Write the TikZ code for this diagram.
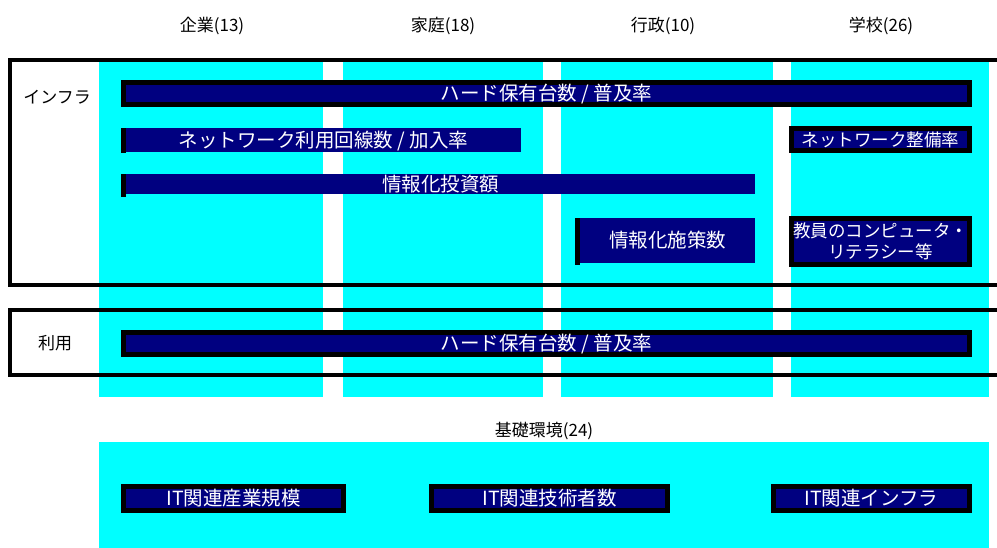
\documentclass[tikz,border=0pt]{standalone}
\usepackage{fontspec}
\setmainfont{Noto Sans CJK JP}
\definecolor{cyanbg}{HTML}{00FFFF}
\definecolor{navybox}{HTML}{000080}
\tikzset{
  colbg/.style={fill=cyanbg, draw=none, inner sep=0pt, anchor=north west},
  framebox/.style={line width=4pt, draw=black},
  fullbox/.style={fill=navybox, draw=black, line width=5pt, text=white, inner sep=0pt, font=\fontsize{19.5}{22}\selectfont, align=center, text height=16pt, text depth=2pt},
  stripbox/.style={fill=navybox, draw=none, text=white, inner sep=0pt, font=\fontsize{19.5}{22}\selectfont, align=center, text height=16pt, text depth=2pt},
  strip/.style={fill=black, draw=none, inner sep=0pt, anchor=north west},
  head/.style={font=\fontsize{17}{20}\selectfont, text=black, inner sep=0pt},
}
\begin{document}
\begin{tikzpicture}[x=1pt,y=-1pt]
\useasboundingbox (0,0) rectangle (997,547);
\fill[white] (0,0) rectangle (997,547);
% cyan columns
\node[colbg, minimum width=224pt, minimum height=338pt] (c1) at (99,59) {};
\node[colbg, minimum width=200pt, minimum height=338pt] (c2) at (343,59) {};
\node[colbg, minimum width=212pt, minimum height=338pt] (c3) at (561,59) {};
\node[colbg, minimum width=198pt, minimum height=338pt] (c4) at (791,59) {};
\node[colbg, minimum width=890pt, minimum height=106pt] (cb) at (99,442) {};
% headers
\node[head] (h1) at (212,26) {企業(13)};
\node[head] (h2) at (443,26) {家庭(18)};
\node[head] (h3) at (663,26) {行政(10)};
\node[head] (h4) at (881,26) {学校(26)};
\node[head] (hb) at (544,431) {基礎環境(24)};
\node[head] (linfra) at (57,97) {インフラ};
\node[head] (luse) at (55,343) {利用};
% frames
\draw[framebox] (1002,60) -- (10,60) -- (10,285) -- (1002,285);
\draw[framebox] (1002,310) -- (10,310) -- (10,375) -- (1002,375);
% infra boxes
\node[fullbox, minimum width=846pt, minimum height=22pt] (b1) at (546.5,93.5) {ハード保有台数 / 普及率};
\node[strip, minimum width=5pt, minimum height=25pt] (s2) at (121,128) {};
\node[stripbox, minimum width=395pt, minimum height=24pt] (b2) at (323.5,140) {ネットワーク利用回線数 / 加入率};
\node[strip, minimum width=5pt, minimum height=23pt] (s3) at (121,174) {};
\node[stripbox, minimum width=629pt, minimum height=20pt] (b3) at (440.5,184) {情報化投資額};
\node[strip, minimum width=5pt, minimum height=47pt] (s4) at (575,218) {};
\node[stripbox, minimum width=175pt, minimum height=45pt] (b4) at (667.5,240.5) {情報化施策数};
\node[fullbox, minimum width=178pt, minimum height=22pt, font=\fontsize{17.5}{20}\selectfont, text height=14.5pt, text depth=1.5pt] (b6) at (880.5,139.5) {ネットワーク整備率};
\node[fullbox, minimum width=178pt, minimum height=46pt, font=\fontsize{17.5}{21}\selectfont, text height=, text depth=] (b5) at (880.5,241.5) {教員のコンピュータ・\\リテラシー等};
% usage box
\node[fullbox, minimum width=846pt, minimum height=22pt] (b7) at (546.5,343.5) {ハード保有台数 / 普及率};
% base environment boxes
\node[fullbox, minimum width=220pt, minimum height=24pt] (b8) at (233.5,498.5) {IT関連産業規模};
\node[fullbox, minimum width=236pt, minimum height=24pt] (b9) at (549.5,498.5) {IT関連技術者数};
\node[fullbox, minimum width=196pt, minimum height=24pt] (b10) at (871.5,498.5) {IT関連インフラ};
\end{tikzpicture}
\end{document}
